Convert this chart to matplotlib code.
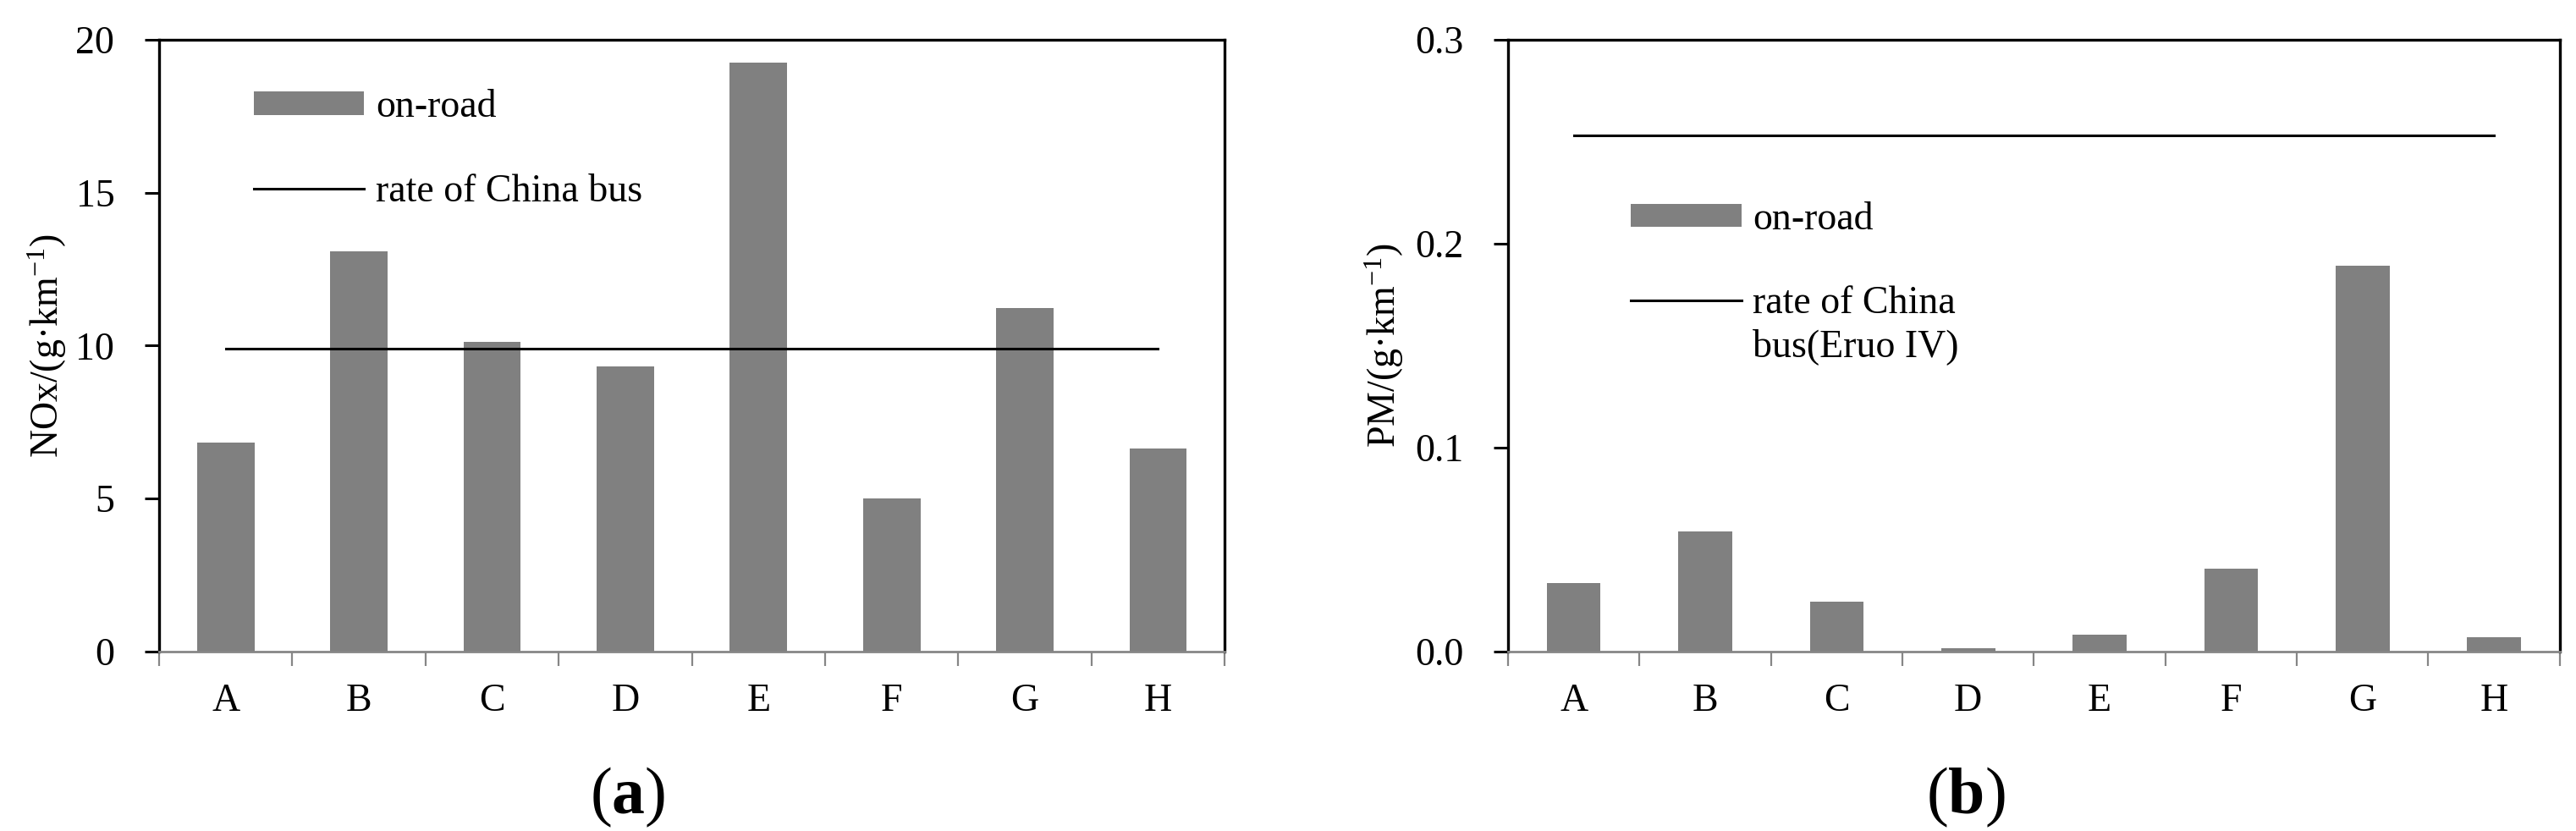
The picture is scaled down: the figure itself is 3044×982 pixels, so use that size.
import matplotlib
matplotlib.use("Agg")
import matplotlib.pyplot as plt
from matplotlib.patches import Patch
from matplotlib.lines import Line2D

plt.rcParams['font.family'] = ['Liberation Serif', 'DejaVu Serif']
plt.rcParams['mathtext.fontset'] = 'custom'
plt.rcParams['mathtext.rm'] = 'Liberation Serif'
plt.rcParams['mathtext.it'] = 'Liberation Serif:italic'
plt.rcParams['mathtext.bf'] = 'Liberation Serif:bold'

# --- data ---
buses = ['A', 'B', 'C', 'D', 'E', 'F', 'G', 'H']
nox_onroad = [6.83, 13.08, 10.12, 9.32, 19.25, 5.01, 11.22, 6.64]
nox_limit = 9.9
pm_onroad = [0.0337, 0.0591, 0.0243, 0.0016, 0.0084, 0.0405, 0.189, 0.0071]
pm_limit = 0.253

bar_color = '#808080'
axis_gray = '#868686'

fig = plt.figure(figsize=(30.44, 9.82), dpi=100)
ax_a = fig.add_axes([0.0618, 0.2159, 0.4136, 0.7363])
ax_b = fig.add_axes([0.5854, 0.2159, 0.4083, 0.7363])


def style_axes(ax, yticks, yfmt):
    x = list(range(len(buses)))
    ax.set_xlim(-0.5, len(buses) - 0.5)
    # ticks on the category boundaries, labels in the middle
    ax.set_xticks([i - 0.5 for i in range(len(buses) + 1)])
    ax.set_xticklabels([])
    ax.set_xticks(x, minor=True)
    ax.set_xticklabels(buses, minor=True)
    ax.tick_params(axis='x', which='major', direction='out', length=12,
                   width=1.6, color=axis_gray)
    ax.tick_params(axis='x', which='minor', length=0, pad=27, labelsize=33)
    ax.set_yticks(yticks)
    ax.set_yticklabels([yfmt.format(v) for v in yticks])
    ax.set_ylim(yticks[0], yticks[-1])
    ax.tick_params(axis='y', direction='out', length=12, width=2.2,
                   pad=26, labelsize=33)
    for s in ['left', 'top', 'right']:
        ax.spines[s].set_linewidth(2.4)
        ax.spines[s].set_color('black')
    ax.spines['bottom'].set_linewidth(2.0)
    ax.spines['bottom'].set_color(axis_gray)


# ---------- (a) NOx ----------
x = list(range(len(buses)))
ax_a.bar(x, nox_onroad, width=0.43, color=bar_color, zorder=2)
ax_a.plot([x[0], x[-1]], [nox_limit, nox_limit], color='black', lw=2.2, zorder=3)
style_axes(ax_a, [0, 5, 10, 15, 20], '{:g}')
ax_a.set_ylabel('NOx/(g·km$^{-1}$)', fontsize=33)
ax_a.yaxis.set_label_coords(-0.085, 0.5)

handles_a = [Patch(facecolor=bar_color, edgecolor='none'),
             Line2D([0], [0], color='black', lw=2.2)]
ax_a.legend(handles_a, ['on-road', 'rate of China bus'],
            loc='upper left', bbox_to_anchor=(0.074, 0.944), frameon=False,
            fontsize=33, handlelength=2.85, handleheight=0.55,
            handletextpad=0.3, labelspacing=1.25, borderaxespad=0)

# ---------- (b) PM ----------
ax_b.bar(x, pm_onroad, width=0.41, color=bar_color, zorder=2)
ax_b.plot([x[0], x[-1]], [pm_limit, pm_limit], color='black', lw=2.2, zorder=3)
style_axes(ax_b, [0.0, 0.1, 0.2, 0.3], '{:.1f}')
ax_b.set_ylabel('PM/(g·km$^{-1}$)', fontsize=33)
ax_b.yaxis.set_label_coords(-0.097, 0.5)

handles_b = [Patch(facecolor=bar_color, edgecolor='none'),
             Line2D([0], [0], color='black', lw=2.2)]
ax_b.legend(handles_b, ['on-road', 'rate of China'],
            loc='upper left', bbox_to_anchor=(0.102, 0.761), frameon=False,
            fontsize=33, handlelength=2.85, handleheight=0.55,
            handletextpad=0.3, labelspacing=1.25, borderaxespad=0)
ax_b.text(0.2325, 0.498, 'bus(Eruo IV)', transform=ax_b.transAxes,
          fontsize=33, ha='left', va='center')

# panel captions
for cx, letter in [(742, 'a'), (2323, 'b')]:
    fig.text(cx / 3044, 1 - 942 / 982, '($\\mathbf{' + letter + '}$)',
             fontsize=56, ha='center', va='center')

fig.savefig('out.png', dpi=100)
